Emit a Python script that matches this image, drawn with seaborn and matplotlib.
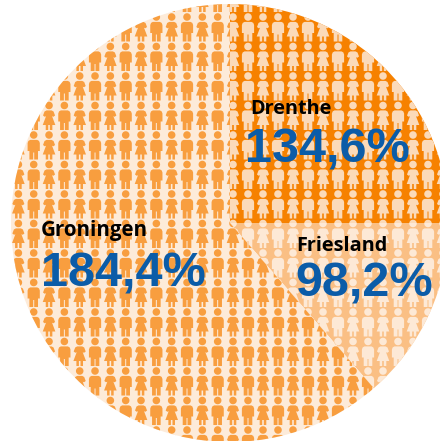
import numpy as np
import pandas as pd
import matplotlib.pyplot as plt
from matplotlib.path import Path
import seaborn as sns

# share of the circle per province, clockwise from the top
regions = ["Drenthe", "Friesland", "Groningen"]
shares = [25.0, 13.6, 61.4]
labels = ["134,6%", "98,2%", "184,4%"]

bg_colors = ["#F68100", "#FABF84", "#FDEBD9"]
fig_colors = ["#FBDAB9", "#FDE9D6", "#F89E3F"]
blue = "#0B5CA8"


def blob(cx, cy, r, n=20):
    t = np.linspace(0, 2 * np.pi, n)
    return np.column_stack([cx + r * np.cos(t), cy + r * np.sin(t)])


def make_path(outline, head_y=11.5, r=3.8):
    # head + body, coordinates in pixels, y up, around the middle of the figure
    parts = [blob(0, head_y, r), np.array(outline, dtype=float)]
    verts = np.vstack(parts)
    codes = []
    for p in parts:
        codes += [Path.MOVETO] + [Path.LINETO] * (len(p) - 2) + [Path.CLOSEPOLY]
    return Path(verts, codes)


man = make_path([
    (-3.5, 6.6), (3.5, 6.6), (5.3, 5.6), (6.1, 3.5), (6.1, -4.5), (4.3, -4.5),
    (4.3, -13), (0.5, -13), (0.5, -6), (-0.5, -6), (-0.5, -13), (-4.3, -13),
    (-4.3, -4.5), (-6.1, -4.5), (-6.1, 3.5), (-5.3, 5.6), (-3.5, 6.6),
])
woman = make_path([
    (-2.5, 6.6), (2.5, 6.6), (4.5, 5.5), (6.0, 1.5), (4.3, 0.2), (3.0, 0.8),
    (6.3, -8), (3.3, -8), (3.3, -13), (0.8, -13), (0.8, -8), (-0.8, -8),
    (-0.8, -13), (-3.3, -13), (-3.3, -8), (-6.3, -8), (-3.0, 0.8), (-4.3, 0.2),
    (-6.0, 1.5), (-4.5, 5.5), (-2.5, 6.6),
])
# scatter scales a custom marker by its largest coordinate (head top, 15.3 px)
marker_s = (2 * 15.3 * 72 / 100) ** 2

# picture grid, alternating man / woman per column
rows = 17 + 29.5 * np.arange(-1, 16) + 11.5
cols_left = 233 - 15.33 * np.arange(1, 15)[::-1]
cols_right = 233 + 15 * np.arange(0, 15)
cols = np.concatenate([cols_left, cols_right])
kinds = ["man" if (round((c - 233) / 15) % 2) else "woman" for c in cols]

xx, yy = np.meshgrid(cols, rows)
kk = np.tile(kinds, (len(rows), 1))
people = pd.DataFrame({"x": xx.ravel(), "y": yy.ravel(), "kind": kk.ravel()})

sns.set_style("white")
plt.rcParams["font.family"] = ["Liberation Sans", "DejaVu Sans"]

fig = plt.figure(figsize=(4.4, 4.41), dpi=100)
ax = fig.add_axes([0, 0, 1, 1])

# y axis runs downward, so counterclock here reads clockwise on screen
wedges, _ = ax.pie(shares, colors=bg_colors, startangle=270, counterclock=True,
                   center=(230, 223), radius=219, frame=False,
                   wedgeprops={"linewidth": 0})
ax.set_xlim(0, 440)
ax.set_ylim(441, 0)
ax.set_aspect("auto")

for wedge, color in zip(wedges, fig_colors):
    for kind, path in [("man", man), ("woman", woman)]:
        n_before = len(ax.collections)
        sns.scatterplot(data=people[people["kind"] == kind], x="x", y="y",
                        marker=path, s=marker_s, color=color, linewidth=0,
                        edgecolor="none", ax=ax, legend=False)
        for coll in ax.collections[n_before:]:
            coll.set_clip_path(wedge)
ax.axis("off")

# labels
name_font = ["Open Sans", "DejaVu Sans"]
ax.text(250, 114, regions[0], fontsize=14.3, fontweight="bold", family=name_font, color="black")
ax.text(245, 163, labels[0], fontsize=35, fontweight="bold", color=blue)
ax.text(296, 251, regions[1], fontsize=14.3, fontweight="bold", family=name_font, color="black")
ax.text(295, 297, labels[1], fontsize=35, fontweight="bold", color=blue)
ax.text(41, 236, regions[2], fontsize=14.8, fontweight="bold", family=name_font, color="black")
ax.text(41, 287, labels[2], fontsize=35, fontweight="bold", color=blue)

fig.savefig("out.png", dpi=100)
